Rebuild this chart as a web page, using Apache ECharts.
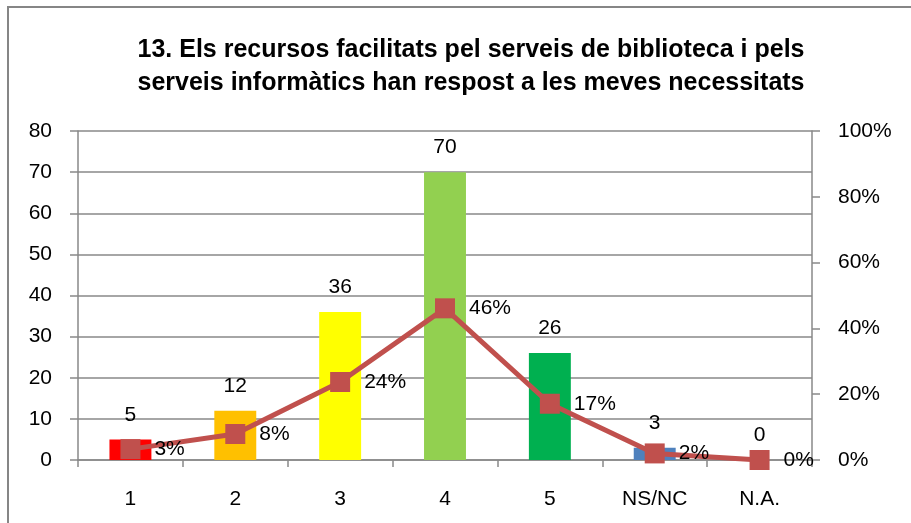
<!DOCTYPE html>
<html>
<head>
<meta charset="utf-8">
<script src="https://cdn.jsdelivr.net/npm/echarts@6/dist/echarts.min.js"></script>
<style>
  html, body { margin: 0; padding: 0; background: #fff; }
  #chart { width: 911px; height: 523px; }
</style>
</head>
<body>
<div id="chart"></div>
<script>
// dades llegides del gràfic
const categories = ['1', '2', '3', '4', '5', 'NS/NC', 'N.A.'];
const counts = [5, 12, 36, 70, 26, 3, 0];
const percents = [3.3, 7.9, 23.7, 46.1, 17.1, 2.0, 0];
const barColors = ['#FF0000', '#FFC000', '#FFFF00', '#92D050', '#00B050', '#4F81BD', '#4F81BD'];
const titleLines = [
  '13. Els recursos facilitats pel serveis de biblioteca i pels',
  'serveis informàtics han respost a les meves necessitats'
];

const font = 'Liberation Sans';
const axisGray = '#898989';

const getOption = () => {
  return {
    textStyle: { fontFamily: font },
    title: {
      text: titleLines.join('\n'),
      left: 466,
      textAlign: 'center',
      top: 29,
      textStyle: {
        fontFamily: font,
        fontSize: 25,
        fontWeight: 'bold',
        color: '#000',
        lineHeight: 33,
      },
    },
    graphic: [
      {
        type: 'rect',
        shape: { x: 8, y: 7, width: 930, height: 540 },
        style: { fill: 'none', stroke: '#868686', lineWidth: 2 },
        silent: true,
      },
    ],
    grid: {
      left: 78,
      right: 99,
      top: 131,
      bottom: 63,
    },
    xAxis: {
      type: 'category',
      data: categories,
      axisLine: { lineStyle: { color: axisGray, width: 1.5 } },
      axisTick: { show: true, length: 7, lineStyle: { color: axisGray, width: 1.5 } },
      axisLabel: { color: '#000', fontSize: 21, margin: 29, fontFamily: font },
    },
    yAxis: [
      {
        type: 'value',
        min: 0,
        max: 80,
        interval: 10,
        axisLine: { show: true, lineStyle: { color: axisGray, width: 1.5 } },
        axisTick: { show: true, length: 8, lineStyle: { color: axisGray, width: 1.5 } },
        splitLine: { lineStyle: { color: axisGray, width: 1.5 } },
        axisLabel: { color: '#000', fontSize: 21, margin: 26, fontFamily: font },
      },
      {
        type: 'value',
        min: 0,
        max: 100,
        interval: 20,
        position: 'right',
        axisLine: { show: true, lineStyle: { color: axisGray, width: 1.5 } },
        axisTick: { show: true, length: 8, lineStyle: { color: axisGray, width: 1.5 } },
        splitLine: { show: false },
        axisLabel: { color: '#000', fontSize: 21, margin: 26, formatter: '{value}%', fontFamily: font },
      },
    ],
    series: [
      {
        name: 'Respostes',
        type: 'bar',
        barWidth: '40%',
        data: counts.map((v, i) => ({ value: v, itemStyle: { color: barColors[i] } })),
        label: {
          show: true,
          position: 'top',
          distance: 14,
          color: '#000',
          fontSize: 21,
          fontFamily: font,
        },
      },
      {
        name: 'Percentatge',
        type: 'line',
        yAxisIndex: 1,
        data: percents,
        symbol: 'rect',
        symbolSize: 20,
        itemStyle: { color: '#C0504D' },
        lineStyle: { color: '#C0504D', width: 5 },
        label: {
          show: true,
          position: 'right',
          distance: 14,
          color: '#000',
          fontSize: 21,
          fontFamily: font,
          formatter: (p) => Math.round(p.value) + '%',
        },
        z: 5,
      },
    ],
  };
};

const chart = echarts.init(document.getElementById('chart'));
chart.setOption(getOption());
</script>
</body>
</html>
